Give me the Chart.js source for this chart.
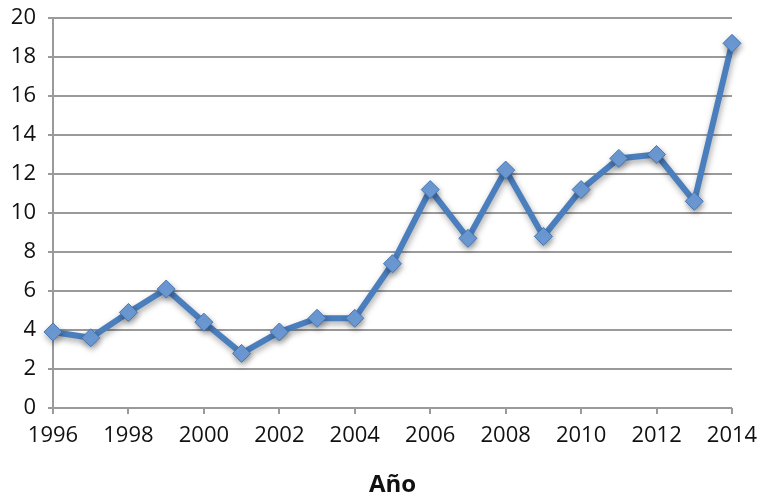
<!DOCTYPE html>
<html>
<head>
<meta charset="utf-8">
<script src="https://cdn.jsdelivr.net/npm/chart.js@4/dist/chart.umd.min.js"></script>
<style>
  html, body { margin: 0; padding: 0; background: #ffffff; }
  #wrap { width: 759px; height: 494px; }
</style>
</head>
<body>
<div id="wrap"><canvas id="c" width="759" height="494"></canvas></div>
<script>
// Yearly series
const years = [1996, 1997, 1998, 1999, 2000, 2001, 2002, 2003, 2004, 2005,
               2006, 2007, 2008, 2009, 2010, 2011, 2012, 2013, 2014];
const values = [3.9, 3.6, 4.9, 6.1, 4.4, 2.8, 3.9, 4.6, 4.6, 7.4,
                11.2, 8.7, 12.2, 8.8, 11.2, 12.8, 13.0, 10.6, 18.7];
const xAxisTitle = 'Año';

const points = years.map((y, i) => ({ x: y, y: values[i] }));

// Soft drop shadow under the line and markers
const shadowPlugin = {
  id: 'lineShadow',
  beforeDatasetDraw(chart) {
    const ctx = chart.ctx;
    ctx.save();
    ctx.shadowColor = 'rgba(0,0,0,0.35)';
    ctx.shadowBlur = 6;
    ctx.shadowOffsetX = 1;
    ctx.shadowOffsetY = 3;
  },
  afterDatasetDraw(chart) {
    chart.ctx.restore();
  }
};

const tickFont = { family: '"Open Sans", sans-serif', size: 22 };

new Chart(document.getElementById('c'), {
  type: 'line',
  data: {
    datasets: [{
      data: points,
      borderColor: '#4a7ebd',
      borderWidth: 6,
      tension: 0,
      pointStyle: 'rectRot',
      pointRadius: 9,
      pointBackgroundColor: '#6d9bd6',
      pointBorderColor: '#4676b4',
      pointBorderWidth: 1,
      clip: false
    }]
  },
  plugins: [shadowPlugin],
  options: {
    responsive: false,
    animation: false,
    layout: { padding: { top: 18, right: 27, left: 0, bottom: 0 } },
    plugins: { legend: { display: false }, tooltip: { enabled: false } },
    scales: {
      x: {
        type: 'linear',
        min: years[0],
        max: years[years.length - 1],
        ticks: {
          stepSize: 2,
          color: '#111111',
          font: tickFont,
          padding: 9,
          maxRotation: 0,
          callback: v => String(v)
        },
        grid: {
          drawOnChartArea: false,
          drawTicks: true,
          tickLength: 6,
          color: '#9a9a9a',
          lineWidth: 2
        },
        border: { display: false },
        title: {
          display: true,
          text: xAxisTitle,
          color: '#111111',
          font: { family: '"Open Sans", sans-serif', size: 24, weight: 'bold' },
          padding: { top: 16, bottom: -6 }
        },
        afterFit(scale) {
          scale.height = 86;
          scale.paddingLeft = 0;
          scale.paddingRight = 0;
        }
      },
      y: {
        min: 0,
        max: 20,
        ticks: {
          stepSize: 2,
          color: '#111111',
          font: tickFont,
          padding: 12
        },
        grid: {
          color: '#9a9a9a',
          lineWidth: 2,
          tickLength: 5
        },
        border: { display: true, color: '#9a9a9a', width: 2 },
        afterFit(scale) {
          scale.width = 53;
          scale.paddingTop = 0;
          scale.paddingBottom = 0;
        }
      }
    }
  }
});
</script>
</body>
</html>
